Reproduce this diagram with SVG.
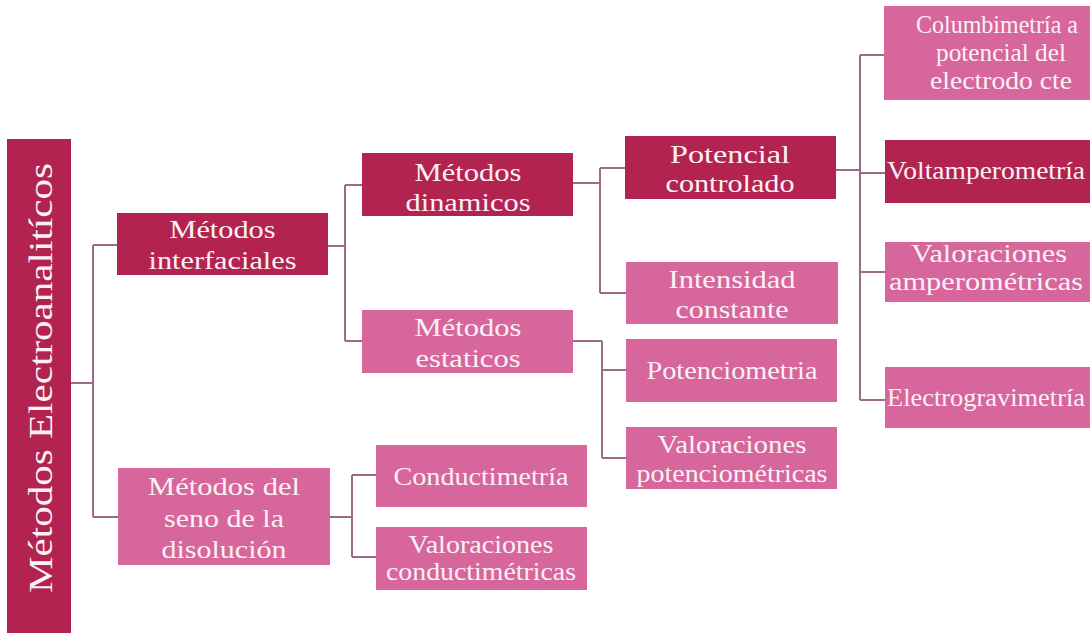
<svg xmlns="http://www.w3.org/2000/svg" width="1090" height="633" viewBox="0 0 1090 633">
<style>
.dark{fill:#B2234F}
.light{fill:#D6669B}
.lbl{font-family:"Liberation Serif","Times New Roman",serif;font-size:26px;fill:#FBF1F5;text-anchor:middle}
.root{font-size:33px}
.conn path{fill:none;stroke:#9C6A86;stroke-width:2}
</style>
<rect width="1090" height="633" fill="#FFFFFF"/>
<g class="conn">
<path d="M71,383 H93 M93,245 V517 M93,245 H117 M93,517 H118"/>
<path d="M328,246 H345 M345,185 V341 M345,185 H362 M345,341 H362"/>
<path d="M573,183 H600 M600,168 V293 M600,168 H625 M600,293 H626"/>
<path d="M573,341 H602 M602,341 V458 M602,370 H626 M602,458 H626"/>
<path d="M836,170 H860 M860,55 V400 M860,55 H884 M860,173 H885 M860,272 H885 M860,400 H885"/>
<path d="M330,517 H352 M352,475 V557 M352,475 H376 M352,557 H376"/>
</g>
<g id="root">
<rect class="dark" x="7" y="139" width="64" height="494"/>
<text class="lbl root" transform="translate(52,378) rotate(-90)" x="0" y="0" textLength="430" lengthAdjust="spacingAndGlyphs">Métodos Electroanalitícos</text>
</g>
<g id="interfaciales">
<rect class="dark" x="117" y="213" width="211" height="62"/>
<text class="lbl" x="222.5" y="238" textLength="106" lengthAdjust="spacingAndGlyphs">Métodos</text>
<text class="lbl" x="222.5" y="269" textLength="148" lengthAdjust="spacingAndGlyphs">interfaciales</text>
</g>
<g id="seno">
<rect class="light" x="118" y="468" width="212" height="97"/>
<text class="lbl" x="224" y="495" textLength="152" lengthAdjust="spacingAndGlyphs">Métodos del</text>
<text class="lbl" x="224" y="527" textLength="120" lengthAdjust="spacingAndGlyphs">seno de la</text>
<text class="lbl" x="224" y="558" textLength="125" lengthAdjust="spacingAndGlyphs">disolución</text>
</g>
<g id="dinamicos">
<rect class="dark" x="362" y="153" width="211" height="63"/>
<text class="lbl" x="468" y="181" textLength="107" lengthAdjust="spacingAndGlyphs">Métodos</text>
<text class="lbl" x="468" y="211" textLength="125" lengthAdjust="spacingAndGlyphs">dinamicos</text>
</g>
<g id="estaticos">
<rect class="light" x="362" y="310" width="211" height="63"/>
<text class="lbl" x="468" y="336" textLength="107" lengthAdjust="spacingAndGlyphs">Métodos</text>
<text class="lbl" x="468" y="367" textLength="105" lengthAdjust="spacingAndGlyphs">estaticos</text>
</g>
<g id="potencial">
<rect class="dark" x="625" y="136" width="211" height="63"/>
<text class="lbl" x="730" y="163" textLength="120" lengthAdjust="spacingAndGlyphs">Potencial</text>
<text class="lbl" x="730" y="192" textLength="129" lengthAdjust="spacingAndGlyphs">controlado</text>
</g>
<g id="intensidad">
<rect class="light" x="626" y="262" width="212" height="62"/>
<text class="lbl" x="732" y="288" textLength="127" lengthAdjust="spacingAndGlyphs">Intensidad</text>
<text class="lbl" x="732" y="318" textLength="113" lengthAdjust="spacingAndGlyphs">constante</text>
</g>
<g id="potenciometria">
<rect class="light" x="626" y="339" width="211" height="63"/>
<text class="lbl" x="732" y="379" textLength="171" lengthAdjust="spacingAndGlyphs">Potenciometria</text>
</g>
<g id="valpot">
<rect class="light" x="626" y="427" width="211" height="62"/>
<text class="lbl" x="732" y="453" textLength="149" lengthAdjust="spacingAndGlyphs">Valoraciones</text>
<text class="lbl" x="732" y="482" textLength="191" lengthAdjust="spacingAndGlyphs">potenciométricas</text>
</g>
<g id="conductimetria">
<rect class="light" x="376" y="445" width="211" height="62"/>
<text class="lbl" x="481" y="485" textLength="175" lengthAdjust="spacingAndGlyphs">Conductimetría</text>
</g>
<g id="valcond">
<rect class="light" x="376" y="527" width="211" height="63"/>
<text class="lbl" x="481" y="553" textLength="145" lengthAdjust="spacingAndGlyphs">Valoraciones</text>
<text class="lbl" x="481" y="580" textLength="190" lengthAdjust="spacingAndGlyphs">conductimétricas</text>
</g>
<g id="columbimetria">
<rect class="light" x="884" y="6" width="206" height="94"/>
<text class="lbl" x="997" y="33" textLength="162" lengthAdjust="spacingAndGlyphs">Columbimetría a</text>
<text class="lbl" x="1001" y="61" textLength="130" lengthAdjust="spacingAndGlyphs">potencial del</text>
<text class="lbl" x="1001" y="89" textLength="142" lengthAdjust="spacingAndGlyphs">electrodo cte</text>
</g>
<g id="voltamperometria">
<rect class="dark" x="885" y="140" width="205" height="63"/>
<text class="lbl" x="986" y="179" textLength="198" lengthAdjust="spacingAndGlyphs">Voltamperometría</text>
</g>
<g id="valamp">
<rect class="light" x="885" y="242" width="205" height="60"/>
<text class="lbl" x="989" y="262" textLength="156" lengthAdjust="spacingAndGlyphs">Valoraciones</text>
<text class="lbl" x="986" y="290" textLength="194" lengthAdjust="spacingAndGlyphs">amperométricas</text>
</g>
<g id="electrograv">
<rect class="light" x="885" y="367" width="205" height="61"/>
<text class="lbl" x="986" y="406" textLength="198" lengthAdjust="spacingAndGlyphs">Electrogravimetría</text>
</g>
</svg>
